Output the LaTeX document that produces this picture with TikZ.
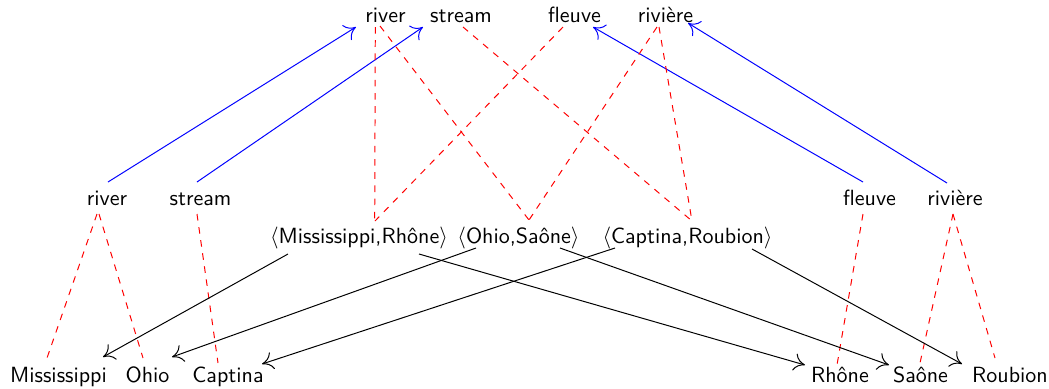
\documentclass[tikz,border=0pt]{standalone}
\usetikzlibrary{calc,arrows.meta}
\begin{document}
\begin{tikzpicture}[x=0.4545pt,y=-0.4545pt,
  every node/.style={font=\sffamily,anchor=base,inner sep=0pt},
  line width=0.45pt,
  tip/.style={-{To[length=5pt,width=8pt]}},
  link/.style={blue,tip},
  corr/.style={red,dashed},
  proj/.style={black,tip}]
\useasboundingbox (0,0) rectangle (1049,388);
% top row
\node (tRiver)   at (385.5,22) {river};
\node (tStream)  at (461,22)   {stream};
\node (tFleuve)  at (574.5,22) {fleuve};
\node (tRiviere) at (665.5,22) {rivière};
% middle row
\node (mRiver)   at (107,205)   {river};
\node (mStream)  at (200.5,205) {stream};
\node (mFleuve)  at (869.5,205) {fleuve};
\node (mRiviere) at (955,205)   {rivière};
% pairs
\node (pMR) at (359,243)   {$\langle$Mississippi,Rhône$\rangle$};
\node (pOS) at (518.5,243) {$\langle$Ohio,Saône$\rangle$};
\node (pCR) at (687.5,243) {$\langle$Captina,Roubion$\rangle$};
% bottom row
\node (bMiss)    at (58.5,382)  {Mississippi};
\node (bOhio)    at (147.5,382) {Ohio};
\node (bCapt)    at (228,382)   {Captina};
\node (bRhone)   at (840,382)   {Rhône};
\node (bSaone)   at (920.5,382) {Saône};
\node (bRoubion) at (1010,382)  {Roubion};
% blue
\draw[link] ($(mRiver.base)+(1,-23)$) -- ($(tRiver.base)+(-29.5,5)$);
\draw[link] ($(mStream.base)+(-3.5,-23)$) -- ($(tStream.base)+(-38,5)$);
\draw[link] ($(mFleuve.base)+(-6.5,-23)$) -- ($(tFleuve.base)+(18.5,5)$);
\draw[link] ($(mRiviere.base)+(-8,-22)$) -- ($(tRiviere.base)+(22.5,1)$);
% red top
\draw[corr] ($(tRiver.base)+(-10.2,5)$) -- ($(pMR.base)+(15.7,-22)$);
\draw[corr] ($(tRiver.base)+(-5.5,4)$) -- ($(pOS.base)+(10.5,-23)$);
\draw[corr] ($(tStream.base)+(2,5)$) -- ($(pCR.base)+(4.5,-22)$);
\draw[corr] ($(tFleuve.base)+(-11.5,5)$) -- ($(pMR.base)+(16,-22)$);
\draw[corr] ($(tRiviere.base)+(-8.5,5)$) -- ($(pOS.base)+(10.5,-23)$);
\draw[corr] ($(tRiviere.base)+(-6.5,5)$) -- ($(pCR.base)+(4.5,-22)$);
% red bottom
\draw[corr] ($(mRiver.base)+(-10,9)$) -- ($(bMiss.base)+(-11.5,-24)$);
\draw[corr] ($(mRiver.base)+(-8,9)$) -- ($(bOhio.base)+(-4.5,-24)$);
\draw[corr] ($(mStream.base)+(-3.5,9)$) -- ($(bCapt.base)+(-10,-19)$);
\draw[corr] ($(mFleuve.base)+(-6.5,9)$) -- ($(bRhone.base)+(-3,-17)$);
\draw[corr] ($(mRiviere.base)+(-2,9)$) -- ($(bSaone.base)+(-0.5,-19)$);
\draw[corr] ($(mRiviere.base)+(-2,9)$) -- ($(bRoubion.base)+(-15,-24)$);
% black
\draw[proj] ($(pMR.base)+(-71,11)$) -- ($(bMiss.base)+(44.5,-25)$);
\draw[proj] ($(pMR.base)+(60,11)$) -- ($(bRhone.base)+(-35,-17)$);
\draw[proj] ($(pOS.base)+(-42.5,5)$) -- ($(bOhio.base)+(24.5,-25)$);
\draw[proj] ($(pOS.base)+(41.5,5)$) -- ($(bSaone.base)+(-31.5,-17)$);
\draw[proj] ($(pCR.base)+(-72.5,5)$) -- ($(bCapt.base)+(34,-18)$);
\draw[proj] ($(pCR.base)+(64.5,6)$) -- ($(bRoubion.base)+(-48,-18)$);
\end{tikzpicture}
\end{document}
